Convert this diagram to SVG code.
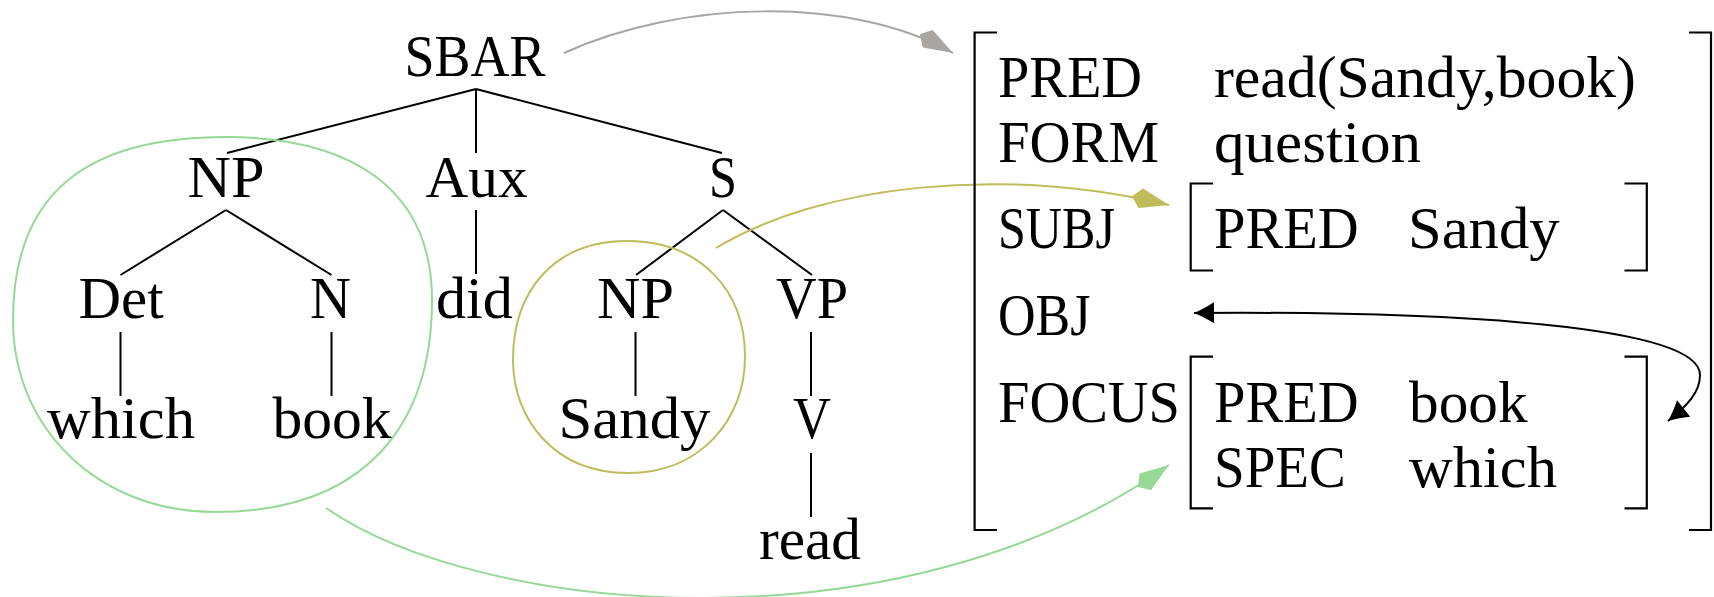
<svg xmlns="http://www.w3.org/2000/svg" width="1714" height="597" viewBox="0 0 1714 597">
  <style>
    text { font-family: "Liberation Serif", "DejaVu Serif", serif; font-size: 59px; fill: #000; }
    .edge { stroke: #000; stroke-width: 2; fill: none; }
    .brk { stroke: #000; stroke-width: 2.2; fill: none; }
    .gray { stroke: #a9a5a3; stroke-width: 2; fill: none; }
    .olive { stroke: #c0bc5c; stroke-width: 2; fill: none; }
    .green { stroke: #96d996; stroke-width: 2; fill: none; }
    .blk { stroke: #000; stroke-width: 2; fill: none; }
  </style>
  <defs>
    <marker id="kite-gray" markerUnits="userSpaceOnUse" viewBox="-40 -12 42 24" markerWidth="42" markerHeight="24" refX="0" refY="0" orient="auto">
      <path d="M0,0 L-29,-10 L-38,0 L-29,10 Z" fill="#a9a5a3"/>
    </marker>
    <marker id="kite-olive" markerUnits="userSpaceOnUse" viewBox="-40 -12 42 24" markerWidth="42" markerHeight="24" refX="0" refY="0" orient="auto">
      <path d="M0,0 L-29,-10 L-38,0 L-29,10 Z" fill="#c0bc5c"/>
    </marker>
    <marker id="kite-green" markerUnits="userSpaceOnUse" viewBox="-40 -12 42 24" markerWidth="42" markerHeight="24" refX="0" refY="0" orient="auto">
      <path d="M0,0 L-29,-10 L-38,0 L-29,10 Z" fill="#96d996"/>
    </marker>
    <marker id="tip-black" markerUnits="userSpaceOnUse" viewBox="-23 -12 25 24" markerWidth="25" markerHeight="24" refX="0" refY="0" orient="auto-start-reverse">
      <path d="M0,0 Q-9,-3.5 -20,-10.5 L-20,10.5 Q-9,3.5 0,0 Z" fill="#000"/>
    </marker>
  </defs>

  <!-- tree edges, groupings and links -->
  <g id="connectors">
    <path class="edge" d="M476,89 L227,153 M476,89 L476,153 M476,89 L722,153"/>
    <path class="edge" d="M226,210 L120.5,275 M226,210 L331.5,275"/>
    <path class="edge" d="M476,210 L476,274"/>
    <path class="edge" d="M723,210 L636,275 M723,210 L812,275"/>
    <path class="edge" d="M120.5,332 L120.5,396 M331.5,332 L331.5,396 M635.5,332 L635.5,396 M811,332 L811,396"/>
    <path class="edge" d="M811,453 L811,517"/>

    <!-- constituent outlines -->
    <path class="green" d="M226,137 C350,137 432,188 432,300 C432,420 370,512 215,512 C100,512 13,430 13,320 C13,190 90,137 226,137 Z"/>
    <path class="olive" d="M627,241 C700,241 745,290 745,357 C745,420 700,473 628,473 C555,473 513,420 513,360 C513,290 555,241 627,241 Z"/>

    <!-- correspondence arrows -->
    <path class="gray" d="M564,53 C680,0 850,-5 953,53" marker-end="url(#kite-gray)"/>
    <path class="olive" d="M716,248 C820,185 1000,165 1169,205" marker-end="url(#kite-olive)"/>
    <path class="green" d="M326,508 C480,615 900,655 1169,465" marker-end="url(#kite-green)"/>
    <path class="blk" d="M1194,313 C1450,311 1700,325 1700,375 C1700,392 1688,405 1668,421" marker-start="url(#tip-black)" marker-end="url(#tip-black)"/>
  </g>

  <!-- c-structure tree -->
  <g id="n-sbar"><text x="404.5" y="76" textLength="141" lengthAdjust="spacingAndGlyphs">SBAR</text></g>
  <g id="n-np"><text x="187.5" y="197" textLength="77" lengthAdjust="spacingAndGlyphs">NP</text></g>
  <g id="n-aux"><text x="425.5" y="197" textLength="102" lengthAdjust="spacingAndGlyphs">Aux</text></g>
  <g id="n-s"><text x="709" y="197" textLength="28" lengthAdjust="spacingAndGlyphs">S</text></g>
  <g id="n-det"><text x="78.6" y="318" textLength="85" lengthAdjust="spacingAndGlyphs">Det</text></g>
  <g id="n-n"><text x="310" y="318" textLength="41" lengthAdjust="spacingAndGlyphs">N</text></g>
  <g id="n-did"><text x="436" y="318" textLength="77" lengthAdjust="spacingAndGlyphs">did</text></g>
  <g id="n-np2"><text x="597" y="318" textLength="77" lengthAdjust="spacingAndGlyphs">NP</text></g>
  <g id="n-vp"><text x="776" y="318" textLength="72" lengthAdjust="spacingAndGlyphs">VP</text></g>
  <g id="n-which"><text x="47" y="438" textLength="148" lengthAdjust="spacingAndGlyphs">which</text></g>
  <g id="n-book"><text x="272.6" y="438" textLength="119" lengthAdjust="spacingAndGlyphs">book</text></g>
  <g id="n-sandy"><text x="558.5" y="438" textLength="152" lengthAdjust="spacingAndGlyphs">Sandy</text></g>
  <g id="n-v"><text x="793" y="438" textLength="38" lengthAdjust="spacingAndGlyphs">V</text></g>
  <g id="n-read"><text x="759" y="559" textLength="102" lengthAdjust="spacingAndGlyphs">read</text></g>

  <!-- f-structure -->
  <g id="fstruct">
    <path class="brk" d="M997,32.5 L974.6,32.5 L974.6,530 L997,530"/>
    <path class="brk" d="M1689,32.5 L1711,32.5 L1711,530 L1689,530"/>
    <text x="998" y="97" textLength="144" lengthAdjust="spacingAndGlyphs">PRED</text>
    <text x="1214" y="97" textLength="422" lengthAdjust="spacingAndGlyphs">read(Sandy,book)</text>
    <text x="998" y="162" textLength="161" lengthAdjust="spacingAndGlyphs">FORM</text>
    <text x="1214" y="162" textLength="207" lengthAdjust="spacingAndGlyphs">question</text>
    <text x="998" y="248" textLength="117" lengthAdjust="spacingAndGlyphs">SUBJ</text>
    <text x="998" y="335" textLength="92.5" lengthAdjust="spacingAndGlyphs">OBJ</text>
    <text x="998" y="422" textLength="182" lengthAdjust="spacingAndGlyphs">FOCUS</text>
  </g>
  <g id="f-subj">
    <path class="brk" d="M1213,183.5 L1190.7,183.5 L1190.7,270.5 L1213,270.5"/>
    <path class="brk" d="M1624.5,183.5 L1646.8,183.5 L1646.8,270.5 L1624.5,270.5"/>
    <text x="1214" y="248" textLength="144.5" lengthAdjust="spacingAndGlyphs">PRED</text>
    <text x="1408" y="248" textLength="151.5" lengthAdjust="spacingAndGlyphs">Sandy</text>
  </g>
  <g id="f-focus">
    <path class="brk" d="M1213,356.7 L1190.7,356.7 L1190.7,508.3 L1213,508.3"/>
    <path class="brk" d="M1624.5,356.7 L1646.8,356.7 L1646.8,508.3 L1624.5,508.3"/>
    <text x="1214" y="422" textLength="144.5" lengthAdjust="spacingAndGlyphs">PRED</text>
    <text x="1409" y="422" textLength="118.5" lengthAdjust="spacingAndGlyphs">book</text>
    <text x="1214" y="487" textLength="131.7" lengthAdjust="spacingAndGlyphs">SPEC</text>
    <text x="1409" y="487" textLength="148" lengthAdjust="spacingAndGlyphs">which</text>
  </g>
</svg>
